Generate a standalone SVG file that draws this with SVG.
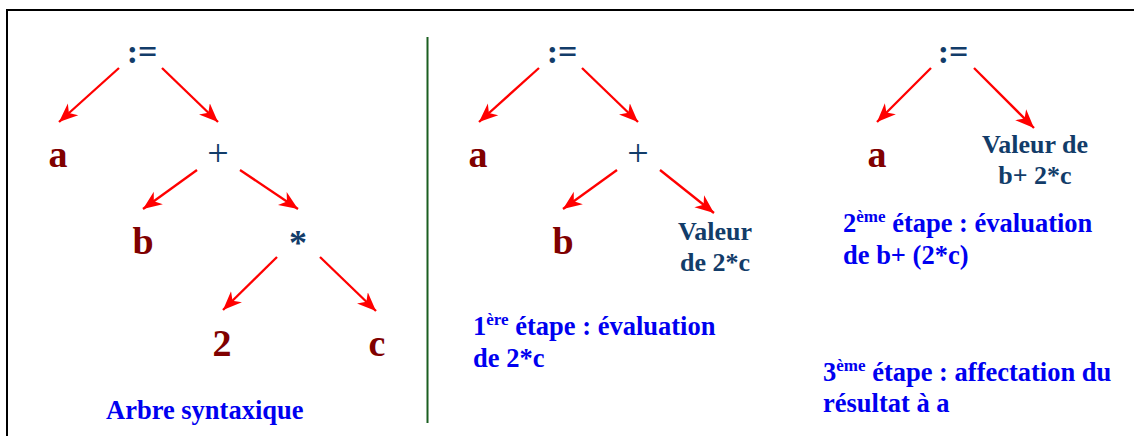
<svg xmlns="http://www.w3.org/2000/svg" width="1134" height="436" viewBox="0 0 1134 436">
<defs>
<marker id="ah" markerUnits="userSpaceOnUse" markerWidth="20" markerHeight="20" viewBox="-17 -8 18 16" refX="0" refY="0" orient="auto">
<path d="M0,0 L-17,-7 L-12,0 L-17,7 Z" fill="#ff0000"/>
</marker>
<style>
text{font-family:'Liberation Serif','Times New Roman',Times,'DejaVu Serif',serif;font-weight:bold}
.op{fill:#123c69;text-anchor:middle}
.asg{font-size:34px}
.pl{font-size:38px;font-weight:normal}
.st{font-size:36px}
.leaf{fill:#800000;font-size:38px;text-anchor:middle}
.val{fill:#123c69;font-size:26px;text-anchor:middle}
.cap{fill:#0000f0;font-size:26.5px}
.sup{font-size:17px}
.ar{stroke:#ff0000;stroke-width:2.3;fill:none;marker-end:url(#ah)}
</style>
</defs>
<rect x="7" y="10" width="1140" height="440" fill="none" stroke="#000" stroke-width="2"/>
<line x1="427.5" y1="37" x2="427.5" y2="423" stroke="#1b5e20" stroke-width="2"/>

<g id="connectors">
<line class="ar" x1="119" y1="68" x2="59" y2="122"/>
<line class="ar" x1="162" y1="68" x2="218" y2="122"/>
<line class="ar" x1="197" y1="170" x2="143" y2="209"/>
<line class="ar" x1="240" y1="170" x2="298" y2="209"/>
<line class="ar" x1="277" y1="257" x2="223" y2="310"/>
<line class="ar" x1="320" y1="257" x2="376" y2="311"/>

<line class="ar" x1="539" y1="68" x2="479" y2="122"/>
<line class="ar" x1="582" y1="68" x2="638" y2="122"/>
<line class="ar" x1="617" y1="170" x2="563" y2="209"/>
<line class="ar" x1="660" y1="170" x2="714" y2="213"/>

<line class="ar" x1="931" y1="68" x2="877" y2="122"/>
<line class="ar" x1="974" y1="68" x2="1034" y2="128"/>
</g>

<g id="t1-assign"><text class="op asg" x="142" y="63">:=</text></g>
<g id="t1-a"><text class="leaf" x="58" y="167">a</text></g>
<g id="t1-plus"><text class="op pl" x="218" y="166">+</text></g>
<g id="t1-b"><text class="leaf" x="143" y="254">b</text></g>
<g id="t1-mul"><text class="op st" x="298" y="255">*</text></g>
<g id="t1-2"><text class="leaf" x="222" y="356">2</text></g>
<g id="t1-c"><text class="leaf" x="377" y="356">c</text></g>
<g id="t1-caption"><text class="cap" x="106" y="419">Arbre syntaxique</text></g>

<g id="t2-assign"><text class="op asg" x="562" y="63">:=</text></g>
<g id="t2-a"><text class="leaf" x="478" y="167">a</text></g>
<g id="t2-plus"><text class="op pl" x="638" y="166">+</text></g>
<g id="t2-b"><text class="leaf" x="563" y="254">b</text></g>
<g id="t2-val"><text class="val" x="715" y="240">Valeur</text><text class="val" x="715" y="271">de 2*c</text></g>
<g id="t2-caption"><text class="cap" x="473" y="335">1<tspan class="sup" dy="-10">ère</tspan><tspan dy="10"> étape : évaluation</tspan></text><text class="cap" x="473" y="367">de 2*c</text></g>

<g id="t3-assign"><text class="op asg" x="953" y="63">:=</text></g>
<g id="t3-a"><text class="leaf" x="877" y="167">a</text></g>
<g id="t3-val"><text class="val" x="1035" y="153">Valeur de</text><text class="val" x="1035" y="184">b+ 2*c</text></g>
<g id="t3-caption"><text class="cap" x="843" y="232">2<tspan class="sup" dy="-10">ème</tspan><tspan dy="10"> étape : évaluation</tspan></text><text class="cap" x="843" y="264">de b+ (2*c)</text></g>
<g id="t4-caption"><text class="cap" x="823" y="381">3<tspan class="sup" dy="-10">ème</tspan><tspan dy="10"> étape : affectation du</tspan></text><text class="cap" x="823" y="412">résultat à a</text></g>
</svg>
